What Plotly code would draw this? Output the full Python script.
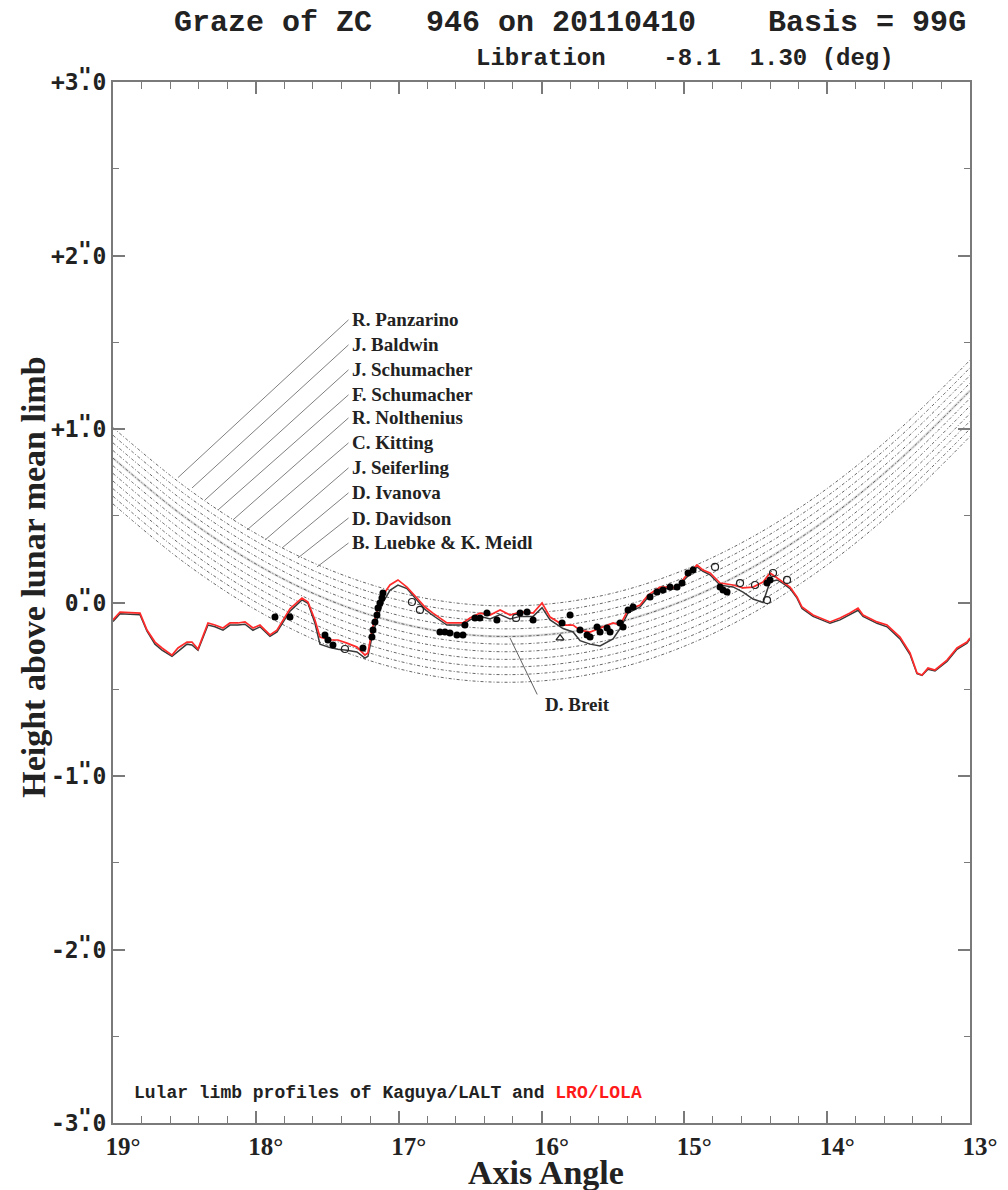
import plotly.graph_objects as go

# ---------------- data ----------------
# LRO/LOLA limb profile (red)
lola_x = [19.000, 18.951, 18.811, 18.762, 18.706, 18.657, 18.587, 18.545, 18.482, 18.447,
          18.405, 18.335, 18.286, 18.230, 18.181, 18.125, 18.076, 18.020, 17.971, 17.901,
          17.852, 17.761, 17.677, 17.635, 17.586, 17.551, 17.481, 17.425, 17.362, 17.292,
          17.236, 17.215, 17.187, 17.152, 17.110, 17.061, 17.005, 16.942, 16.872, 16.816,
          16.760, 16.662, 16.550, 16.501, 16.431, 16.360, 16.290, 16.220, 16.150, 16.101,
          16.059, 15.996, 15.940, 15.849, 15.779, 15.730, 15.660, 15.590, 15.499, 15.450,
          15.394, 15.310, 15.254, 15.170, 15.100, 15.051, 14.995, 14.911, 14.869, 14.820,
          14.750, 14.659, 14.589, 14.519, 14.449, 14.400, 14.351, 14.309, 14.260, 14.211,
          14.176, 14.099, 13.980, 13.910, 13.840, 13.784, 13.749, 13.651, 13.581, 13.490,
          13.420, 13.371, 13.336, 13.294, 13.245, 13.161, 13.091, 13.021, 13.000]
lola_y = [-0.100, -0.055, -0.061, -0.159, -0.228, -0.262, -0.303, -0.262, -0.228, -0.228,
          -0.268, -0.118, -0.130, -0.147, -0.118, -0.118, -0.112, -0.147, -0.130, -0.187,
          -0.159, -0.037, 0.026, 0.003, -0.101, -0.199, -0.216, -0.216, -0.234, -0.257,
          -0.303, -0.291, -0.159, -0.055, 0.043, 0.101, 0.130, 0.089, 0.026, -0.026,
          -0.061, -0.118, -0.118, -0.089, -0.061, -0.072, -0.043, -0.072, -0.055, -0.055,
          -0.061, -0.003, -0.084, -0.130, -0.130, -0.159, -0.170, -0.147, -0.118, -0.130,
          -0.043, -0.015, 0.043, 0.089, 0.089, 0.084, 0.147, 0.216, 0.187, 0.170,
          0.112, 0.101, 0.084, 0.089, 0.118, 0.170, 0.141, 0.118, 0.089, 0.032,
          -0.026, -0.072, -0.112, -0.089, -0.061, -0.032, -0.072, -0.112, -0.130, -0.199,
          -0.291, -0.407, -0.418, -0.378, -0.389, -0.332, -0.262, -0.228, -0.205]

# Kaguya/LALT limb profile (dark)
lalt_y = [-0.110, -0.065, -0.070, -0.165, -0.240, -0.275, -0.310, -0.280, -0.240, -0.245,
          -0.275, -0.130, -0.140, -0.160, -0.130, -0.130, -0.125, -0.160, -0.140, -0.195,
          -0.170, -0.050, 0.015, -0.005, -0.120, -0.240, -0.260, -0.270, -0.275, -0.285,
          -0.320, -0.310, -0.200, -0.100, 0.000, 0.070, 0.100, 0.080, 0.010, -0.040,
          -0.075, -0.130, -0.130, -0.100, -0.080, -0.095, -0.070, -0.095, -0.080, -0.080,
          -0.080, -0.030, -0.100, -0.150, -0.170, -0.220, -0.240, -0.250, -0.210, -0.150,
          -0.060, -0.025, 0.030, 0.080, 0.080, 0.075, 0.135, 0.205, 0.180, 0.160,
          0.100, 0.090, 0.060, 0.020, 0.000, 0.120, 0.130, 0.110, 0.080, 0.025,
          -0.035, -0.080, -0.120, -0.100, -0.070, -0.045, -0.080, -0.120, -0.140, -0.210,
          -0.300, -0.410, -0.420, -0.385, -0.395, -0.340, -0.270, -0.235, -0.210]

# observed events: filled circles
filled_x = [17.866, 17.761, 17.516, 17.495, 17.460, 17.250, 17.187, 17.180, 17.166, 17.152,
            17.145, 17.131, 17.117, 17.110, 16.711, 16.676, 16.641, 16.592, 16.550, 16.536,
            16.466, 16.431, 16.382, 16.312, 16.150, 16.101, 16.059, 15.856, 15.800, 15.730,
            15.681, 15.660, 15.611, 15.590, 15.541, 15.520, 15.450, 15.429, 15.394, 15.359,
            15.240, 15.191, 15.149, 15.100, 15.051, 15.016, 14.974, 14.939, 14.750, 14.729,
            14.701, 14.421, 14.400]
filled_y = [-0.084, -0.084, -0.187, -0.216, -0.245, -0.262, -0.199, -0.159, -0.112, -0.072,
            -0.032, -0.003, 0.026, 0.055, -0.170, -0.170, -0.176, -0.187, -0.187, -0.130,
            -0.089, -0.089, -0.061, -0.101, -0.061, -0.055, -0.101, -0.118, -0.072, -0.159,
            -0.187, -0.199, -0.141, -0.170, -0.147, -0.170, -0.118, -0.141, -0.043, -0.026,
            0.032, 0.061, 0.072, 0.089, 0.089, 0.112, 0.170, 0.187, 0.089, 0.072,
            0.061, 0.112, 0.130]

# observed events: open circles
open_x = [17.376, 16.907, 16.851, 16.178, 14.785, 14.610, 14.505, 14.421, 14.379, 14.281]
open_y = [-0.268, 0.003, -0.043, -0.089, 0.205, 0.112, 0.101, 0.014, 0.170, 0.130]

# open triangle
tri_x = [15.870]
tri_y = [-0.205]

# observer paths: upper path, plus each path's offset
path_x = [19.0, 18.5, 18.0, 17.5, 17.0, 16.5, 16.0, 15.5, 15.0, 14.5, 14.0, 13.5, 13.0]
path_top_y = [1.008, 0.670, 0.398, 0.194, 0.058, -0.011, -0.012, 0.054, 0.188, 0.389, 0.657, 0.994, 1.397]
path_offsets = [0.0, -0.044, -0.088, -0.132, -0.176, -0.220, -0.264, -0.308, -0.352, -0.396, -0.440]

observers = ["R. Panzarino", "J. Baldwin", "J. Schumacher", "F. Schumacher", "R. Nolthenius",
             "C. Kitting", "J. Seiferling", "D. Ivanova", "D. Davidson", "B. Luebke &amp; K. Meidl"]
label_y = [1.629, 1.485, 1.341, 1.197, 1.064, 0.920, 0.776, 0.632, 0.487, 0.343]
label_x = 17.341
leader_end_x = [18.545, 18.447, 18.356, 18.265, 18.160, 18.062, 17.936, 17.817, 17.705, 17.572]
leader_end_y = [0.720, 0.660, 0.591, 0.533, 0.476, 0.418, 0.360, 0.314, 0.257, 0.205]

breit_label = (15.99, -0.59)
breit_end = (16.22, -0.205)

y_ticks = [-3, -2, -1, 0, 1, 2, 3]
y_ticktext = ["-3.0", "-2.0", "-1.0", "0.0", "+1.0", "+2.0", "+3.0"]
x_ticks = [19, 18, 17, 16, 15, 14, 13]
x_ticktext = ["19\u00b0", "18\u00b0", "17\u00b0", "16\u00b0", "15\u00b0", "14\u00b0", "13\u00b0"]

# ---------------- figure ----------------
fig = go.Figure()

for i, off in enumerate(path_offsets):
    yy = [v + off for v in path_top_y]
    if i == 4:
        fig.add_trace(go.Scatter(x=path_x, y=yy, mode="lines", hoverinfo="skip",
                                 line=dict(color="rgba(150,150,150,0.3)", width=2.5, shape="spline")))
    fig.add_trace(go.Scatter(x=path_x, y=yy, mode="lines", hoverinfo="skip",
                             line=dict(color="rgba(30,30,30,0.85)", width=0.8, shape="spline",
                                       dash="3px,2px,1px,2px")))

fig.add_trace(go.Scatter(x=lola_x, y=lalt_y, mode="lines",
                         line=dict(color="#3a3a3a", width=1.5)))
fig.add_trace(go.Scatter(x=lola_x, y=lola_y, mode="lines",
                         line=dict(color="#ff2a2a", width=1.7)))
fig.add_trace(go.Scatter(x=open_x, y=open_y, mode="markers",
                         marker=dict(symbol="circle-open", size=7, color="#222", line=dict(width=1.2))))
fig.add_trace(go.Scatter(x=tri_x, y=tri_y, mode="markers",
                         marker=dict(symbol="triangle-up-open", size=7, color="#222", line=dict(width=1.2))))
fig.add_trace(go.Scatter(x=filled_x, y=filled_y, mode="markers",
                         marker=dict(symbol="circle", size=7, color="#000")))

# leader lines and observer names
name_font = dict(family="Liberation Serif", size=19, color="#222", weight="bold")
for name, ly, ex, ey in zip(observers, label_y, leader_end_x, leader_end_y):
    fig.add_shape(type="line", x0=label_x + 0.01, y0=ly, x1=ex, y1=ey,
                  line=dict(color="#808080", width=1))
    fig.add_annotation(x=label_x, y=ly, text=name, showarrow=False, xanchor="left", yanchor="middle",
                       font=name_font)

fig.add_shape(type="line", x0=breit_label[0] + 0.04, y0=breit_label[1] + 0.06,
              x1=breit_end[0], y1=breit_end[1], line=dict(color="#606060", width=1))
fig.add_annotation(x=breit_label[0], y=breit_label[1], text="D. Breit", showarrow=False,
                   xanchor="left", yanchor="middle", font=name_font)

# the arc-second mark sitting above the decimal point of each y tick label
for t in y_ticks:
    fig.add_annotation(xref="paper", yref="y", x=0, y=t, text='"', showarrow=False,
                       xanchor="center", yanchor="middle", xshift=-28, yshift=6, borderpad=0,
                       font=dict(family="DejaVu Sans Mono", size=23, color="#222", weight="bold"))

# titles
fig.add_annotation(xref="paper", yref="paper", x=0.533, y=1.057, xanchor="center", yanchor="middle",
                   text="Graze of ZC   946 on 20110410    Basis = 99G", showarrow=False, borderpad=0,
                   font=dict(family="Liberation Mono", size=30, color="#222", weight="bold"))
fig.add_annotation(xref="paper", yref="paper", x=0.667, y=1.023, xanchor="center", yanchor="middle",
                   text="Libration    -8.1  1.30 (deg)", showarrow=False,
                   font=dict(family="Liberation Mono", size=24, color="#222", weight="bold"))
fig.add_annotation(xref="paper", yref="paper", x=0.022, y=0.029, xanchor="left", yanchor="middle",
                   text="Lular limb profiles of Kaguya/LALT and <span style='color:#ff1a1a'>LRO/LOLA</span>",
                   showarrow=False,
                   font=dict(family="Liberation Mono", size=18, color="#222", weight="bold"))
fig.add_annotation(xref="paper", yref="paper", x=0.505, y=-0.048, xanchor="center", yanchor="middle",
                   text="Axis Angle", showarrow=False,
                   font=dict(family="Liberation Serif", size=34, color="#222", weight="bold"))
fig.add_annotation(xref="paper", yref="paper", x=-0.093, y=0.524, xanchor="center", yanchor="middle",
                   textangle=-90, text="Height above lunar mean limb", showarrow=False,
                   font=dict(family="Liberation Serif", size=34, color="#222", weight="bold"))

axis_common = dict(showgrid=False, zeroline=False, showline=True, linecolor="#7a7a7a", linewidth=2,
                   mirror="ticks", ticks="inside", tickcolor="#7a7a7a", tickwidth=1.5, ticklen=12)

fig.update_xaxes(range=[19, 13], tickvals=x_ticks, ticktext=x_ticktext,
                 tickfont=dict(family="Liberation Serif", size=25, color="#222", weight="bold"),
                 minor=dict(ticks="inside", dtick=0.2, ticklen=7, tickcolor="#7a7a7a", tickwidth=1.2),
                 ticklabelshift=-10, **axis_common)
fig.update_yaxes(range=[-3, 3], tickvals=y_ticks, ticktext=y_ticktext,
                 tickfont=dict(family="DejaVu Sans Mono", size=23, color="#222", weight="bold"),
                 minor=dict(ticks="inside", dtick=0.5, ticklen=6, tickcolor="#7a7a7a", tickwidth=1.2),
                 **axis_common)

# the page adds an 8px body margin, so the plot area is set 8px up/left
fig.update_layout(width=1008, height=1190, showlegend=False,
                  paper_bgcolor="white", plot_bgcolor="white",
                  margin=dict(l=105, r=46, t=74, b=75, autoexpand=False))

fig.write_html("out.html")
